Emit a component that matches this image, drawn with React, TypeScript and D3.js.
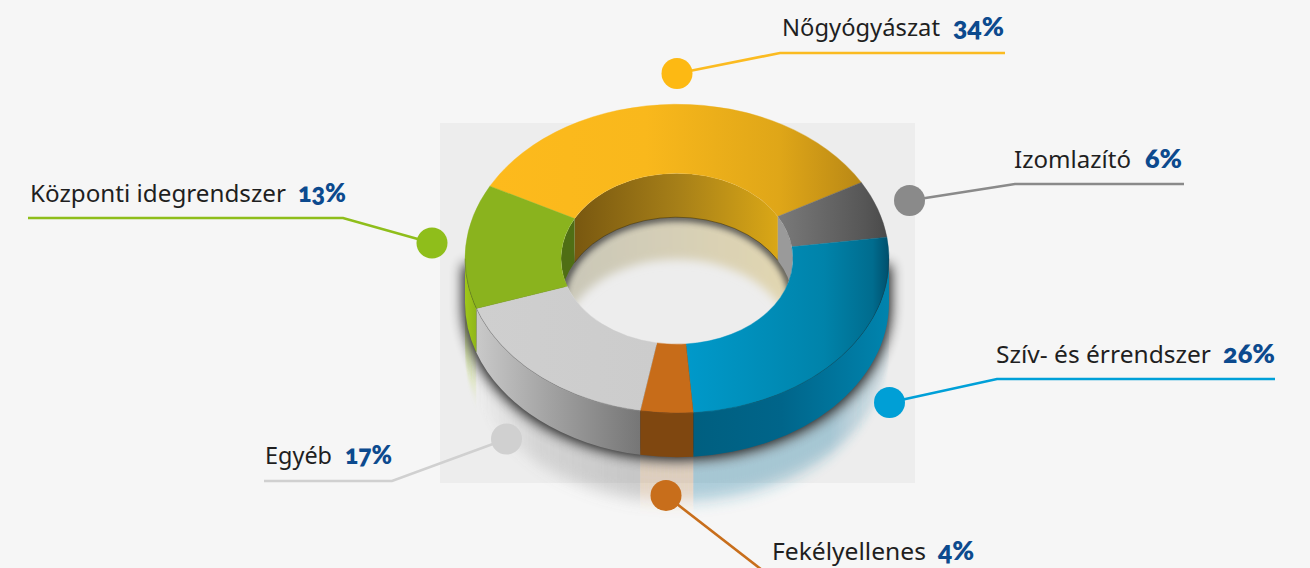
import React from "react";
import * as d3 from "d3";

const categories = ["Nőgyógyászat", "Izomlazító", "Szív- és érrendszer", "Fekélyellenes", "Egyéb", "Központi idegrendszer"];
const shares = [34, 6, 26, 4, 17, 13];
const dotColors = ["#fdb913", "#8a8a8a", "#009fd6", "#c86e1b", "#d0d0d0", "#8fbe1b"];
const lineColors = ["#fbbb21", "#8a8a8a", "#00a0d8", "#c86e1b", "#d0d0d0", "#8fbe1b"];
const topStops = [
  [[0, "#fdba1c"], [0.42, "#f9b81c"], [0.78, "#dfa618"], [1, "#b98815"]],
  [[0, "#7a7a7a"], [0.8, "#565656"], [1, "#4a4a4a"]],
  [[0, "#0099ca"], [0.3, "#0090bc"], [0.68, "#0083aa"], [0.92, "#006c8e"], [1, "#004f6c"]],
  [[0, "#c76c19"], [1, "#c76c19"]],
  [[0, "#cfcfcf"], [1, "#cccccc"]],
  [[0, "#8ab31e"], [1, "#8ab31e"]],
];
const sideStops = [
  [[0, "#555"], [1, "#555"]],
  [[0, "#777"], [1, "#777"]],
  [[0, "#005f80"], [0.45, "#00658a"], [1, "#0084ae"]],
  [[0, "#7f4710"], [1, "#7f4710"]],
  [[0, "#c9c9c9"], [0.45, "#a2a2a2"], [1, "#767676"]],
  [[0, "#a0c81a"], [1, "#8fb61a"]],
];
const reflectColors = ["#fff", "#fff", "#2c82a6", "#a8692c", "#7a7a7a", "#9dc41a"];
const reflectOpacity = [
  [[0, 0], [1, 0]],
  [[0, 0], [1, 0]],
  [[0, 0.36], [0.7, 0.36], [1, 0.1]],
  [[0, 0.24], [1, 0.24]],
  [[0, 0], [0.4, 0.22], [1, 0.34]],
  [[0, 0.35], [1, 0.1]],
];
const wallStops = [[0, "#795810"], [0.5, "#a67f18"], [1, "#dba816"]];
const floorStops = [[0, "#c9c7b8"], [0.5, "#d6cfb6"], [1, "#e2d6b0"]];
const labelBoxes = [
  { x: 782, y: 36, w: 158, px: 953, pw: 51 },
  { x: 1014, y: 168, w: 117, px: 1145, pw: 37 },
  { x: 996, y: 363, w: 215, px: 1223, pw: 52 },
  { x: 772, y: 560, w: 154, px: 938, pw: 36 },
  { x: 265, y: 464, w: 67, px: 345, pw: 47 },
  { x: 30, y: 202, w: 256, px: 298, pw: 48 },
];
const leaders = [
  [[677, 73.5], [780, 53], [1005, 53]],
  [[909.5, 200.5], [1015, 184], [1184, 184]],
  [[889.5, 402.5], [997, 379], [1275, 379]],
  [[666, 495.5], [762, 570]],
  [[506.5, 439], [392, 481], [264, 481]],
  [[432, 243], [343, 218], [28, 218]],
];

const W = 1310, H = 568;
const cx = 677, cy = 258.7, rx = 212, ry = 154.5, irx = 116, iry = 85.5, depth = 44;
const START = (-62 * Math.PI) / 180;
const pie = d3.pie<number>().sort(null).startAngle(START).endAngle(START + 2 * Math.PI);
const arcs = pie(shares);

const pt = (a: number, rxx: number, ryy: number, dy = 0) => [cx + rxx * Math.sin(a), cy + dy - ryy * Math.cos(a)];
const arcTo = (a0: number, a1: number, r1: number, r2: number, dy: number) => {
  const p = pt(a1, r1, r2, dy);
  const large = Math.abs(a1 - a0) > Math.PI ? 1 : 0;
  const sweep = a1 > a0 ? 1 : 0;
  return `A${r1} ${r2} 0 ${large} ${sweep} ${p[0]} ${p[1]}`;
};
const move = (a: number, r1: number, r2: number, dy: number, c = "M") => {
  const p = pt(a, r1, r2, dy);
  return `${c}${p[0]} ${p[1]}`;
};
const topFace = (a0: number, a1: number) =>
  move(a0, rx, ry, 0) + arcTo(a0, a1, rx, ry, 0) + move(a1, irx, iry, 0, "L") + arcTo(a1, a0, irx, iry, 0) + "Z";
const band = (a0: number, a1: number, r1: number, r2: number, d0: number, d1: number) =>
  move(a0, r1, r2, d0) + arcTo(a0, a1, r1, r2, d0) + move(a1, r1, r2, d1, "L") + arcTo(a1, a0, r1, r2, d1) + "Z";

const HALF = Math.PI / 2;
const clampFront = (a0: number, a1: number): [number, number] | null => {
  const s = Math.max(a0, HALF), e = Math.min(a1, 3 * HALF);
  return e > s ? [s, e] : null;
};

const grad = (id: string, x1: number, x2: number, stops: any[]) => (
  <linearGradient key={id} id={id} gradientUnits="userSpaceOnUse" x1={x1} x2={x2} y1={0} y2={0}>
    {stops.map((s, i) => <stop key={i} offset={s[0]} stopColor={s[1]} />)}
  </linearGradient>
);
const fadeGrad = (id: string, x1: number, x2: number, color: string, stops: any[]) => (
  <linearGradient key={id} id={id} gradientUnits="userSpaceOnUse" x1={x1} x2={x2} y1={0} y2={0}>
    {stops.map((s, i) => <stop key={i} offset={s[0]} stopColor={color} stopOpacity={s[1]} />)}
  </linearGradient>
);

const bboxX = (a0: number, a1: number, radii: number[]) => {
  const n = 40;
  const xs = radii.flatMap((r) => d3.range(n + 1).map((i) => pt(a0 + ((a1 - a0) * i) / n, r, r)[0]));
  return [d3.min(xs) as number, d3.max(xs) as number];
};

export default function App() {
  const font = "'Noto Sans', 'Open Sans', sans-serif";
  const pctFont = "'Lato', 'Noto Sans', sans-serif";
  return (
    <svg width={W} height={H} viewBox={`0 0 ${W} ${H}`} style={{ position: "absolute", left: 0, top: 0, display: "block" }}>
      <defs>
        {arcs.map((d, i) => {
          const [x0, x1] = bboxX(d.startAngle, d.endAngle, [rx, irx]);
          return grad(`top${i}`, x0, x1, topStops[i]);
        })}
        {arcs.map((d, i) => {
          const f = clampFront(d.startAngle, d.endAngle);
          const [x0, x1] = f ? bboxX(f[0], f[1], [rx]) : [0, 1];
          return grad(`side${i}`, x0, x1, sideStops[i]);
        })}
        {arcs.map((d, i) => {
          const f = clampFront(d.startAngle, d.endAngle);
          const [x0, x1] = f ? bboxX(f[0], f[1], [rx]) : [0, 1];
          return fadeGrad(`refl${i}`, x0, x1, reflectColors[i], reflectOpacity[i]);
        })}
        {grad("wall", cx - 102, cx + 103, wallStops)}
        {grad("floor", cx - irx, cx + irx, floorStops)}
        <filter id="blurV" filterUnits="userSpaceOnUse" x={400} y={200} width={560} height={368}>
          <feGaussianBlur stdDeviation="0.6 8" />
        </filter>
        <filter id="blurS" filterUnits="userSpaceOnUse" x={420} y={220} width={520} height={300}>
          <feGaussianBlur stdDeviation="6.5" />
        </filter>
        <filter id="blurF" filterUnits="userSpaceOnUse" x={520} y={150} width={320} height={220}>
          <feGaussianBlur stdDeviation="5" />
        </filter>
        <filter id="blurD" filterUnits="userSpaceOnUse" x={520} y={150} width={320} height={220}>
          <feGaussianBlur stdDeviation="3.5" />
        </filter>
        <clipPath id="hole">
          <ellipse cx={cx} cy={cy} rx={irx} ry={iry} />
        </clipPath>
      </defs>

      <rect x={0} y={0} width={W} height={H} fill="#f6f6f6" />
      <rect x={440} y={123} width={475} height={360} fill="#ededed" />

      {/* reflection on the ground */}
      <g filter="url(#blurV)">
        {arcs.map((d, i) => {
          const f = clampFront(d.startAngle, d.endAngle);
          if (!f) return null;
          return <path key={i} d={band(f[0], f[1], rx, ry, depth, depth + 44)} fill={`url(#refl${i})`} />;
        })}
      </g>

      {/* leader lines and dots */}
      {leaders.map((pts, i) => (
        <path key={i} d={d3.line()(pts as [number, number][]) as string} fill="none" stroke={lineColors[i]} strokeWidth={2.6} />
      ))}
      {leaders.map((pts, i) => (
        <circle key={i} cx={pts[0][0]} cy={pts[0][1]} r={15.5} fill={dotColors[i]} />
      ))}

      {/* contact shadow */}
      <path
        d={move(HALF, rx + 2, ry, 6) + move(HALF, rx + 2, ry, depth + 3, "L") + arcTo(HALF, 3 * HALF, rx + 2, ry, depth + 3) + move(3 * HALF, rx + 2, ry, 6, "L") + "Z"}
        fill="#000"
        opacity={0.9}
        filter="url(#blurS)"
      />

      {/* outer side walls */}
      {arcs.map((d, i) => {
        const f = clampFront(d.startAngle, d.endAngle);
        if (!f) return null;
        return <path key={i} d={band(f[0], f[1], rx, ry, 0, depth)} fill={`url(#side${i})`} />;
      })}

      {/* the hole */}
      <ellipse cx={cx} cy={cy} rx={irx + 2} ry={iry + 2} fill="#ededed" />
      <g clipPath="url(#hole)">
        <rect x={cx - irx} y={cy - iry} width={irx * 2} height={iry * 2} fill="#ededed" />
        <path d={band(-HALF, HALF, irx, iry, depth, depth + 42)} fill="url(#floor)" filter="url(#blurF)" />
        <path d={move(-HALF, irx, iry, depth) + arcTo(-HALF, HALF, irx, iry, depth)} fill="none" stroke="#000" strokeWidth={6} opacity={0.85} filter="url(#blurD)" />
        <path d={band(arcs[0].startAngle, arcs[0].endAngle, irx, iry, 0, depth)} fill="url(#wall)" />
        <path d={band(arcs[1].startAngle, HALF + 0.35, irx, iry, 0, depth)} fill="#9a9a9a" />
        <path d={band(-HALF - 0.35, arcs[0].startAngle, irx, iry, 0, depth)} fill="#4f6e14" />
        <path d={move(arcs[0].startAngle, irx, iry, depth) + arcTo(arcs[0].startAngle, arcs[0].endAngle, irx, iry, depth)} fill="none" stroke="#3a2c08" strokeWidth={0.7} opacity={0.7} />
      </g>

      {/* top faces */}
      {arcs.map((d, i) => (
        <path key={i} d={topFace(d.startAngle, d.endAngle)} fill={`url(#top${i})`} stroke={`url(#top${i})`} strokeWidth={0.4} />
      ))}
      <path d={move(HALF, rx, ry, 0) + arcTo(HALF, 3 * HALF, rx, ry, 0)} fill="none" stroke="#222" strokeWidth={0.5} opacity={0.45} />

      {/* labels */}
      {categories.map((c, i) => {
        const b = labelBoxes[i];
        return (
          <g key={c}>
            <text x={b.x} y={b.y} fill="#1f1f1f" textLength={b.w} lengthAdjust="spacingAndGlyphs" style={{ fontFamily: font, fontSize: 23 }}>{c}</text>
            <text x={b.px} y={b.y} fill="#0c4a8e" fontWeight={800} textLength={b.pw} lengthAdjust="spacingAndGlyphs" style={{ fontFamily: pctFont, fontSize: 26, fontFeatureSettings: "'onum'" }}>{shares[i]}%</text>
          </g>
        );
      })}
    </svg>
  );
}
